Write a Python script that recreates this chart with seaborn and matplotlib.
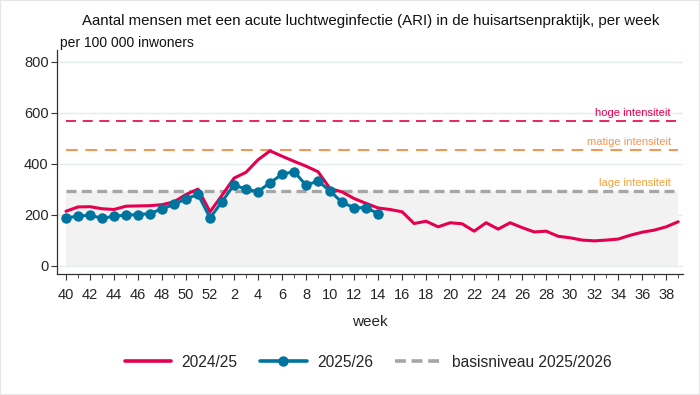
import numpy as np
import pandas as pd
import matplotlib
matplotlib.use("Agg")
import matplotlib.pyplot as plt
import seaborn as sns
from matplotlib.lines import Line2D

# ---- data ----
week_labels = [40, 41, 42, 43, 44, 45, 46, 47, 48, 49, 50, 51, 52] + list(range(1, 40))
ari_2024_25 = [214, 231, 232, 224, 221, 234, 235, 236, 240, 251, 280, 301, 212,
               277, 344, 367, 416, 451, 430, 410, 391, 369, 303, 290, 264, 245, 227,
               221, 212, 166, 175, 153, 169, 165, 136, 169, 144, 169, 150, 133, 136,
               116, 110, 101, 98, 101, 105, 120, 132, 140, 153, 173]
ari_2025_26 = [188, 195, 199, 186, 195, 199, 201, 205, 224, 241, 263, 280, 188,
               252, 318, 300, 291, 326, 359, 370, 316, 333, 293, 249, 228, 228, 205]
basisniveau = 293
matige_drempel = 456
hoge_drempel = 569
y_ticks = [0, 200, 400, 600, 800]

RED = "#e4004f"
BLUE = "#00739e"
GRAY = "#a6a6a6"
ORANGE = "#f7944f"
YELLOW = "#f5a33a"

sns.set_theme(style="white")
plt.rcParams["font.family"] = ["Liberation Sans", "DejaVu Sans"]

pos = np.arange(len(week_labels))
df24 = pd.DataFrame({"pos": pos, "waarde": ari_2024_25})
df25 = pd.DataFrame({"pos": pos[:len(ari_2025_26)], "waarde": ari_2025_26})

fig = plt.figure(figsize=(7.0, 3.95), dpi=100)
ax = fig.add_axes([0.0814, 0.306, 0.8943, 0.567])

x0, x1 = pos[0], pos[-1]
# grid
for yv in y_ticks:
    ax.axhline(yv, color="#e4ecee", lw=1.0, zorder=0)
# baseline shaded area
ax.fill_between([x0, x1], 0, basisniveau, color="#f2f2f2", zorder=1, lw=0)
ax.plot([x0, x1], [hoge_drempel] * 2, color=RED, lw=1.2, dashes=(6, 4), zorder=2)
ax.plot([x0, x1], [matige_drempel] * 2, color=ORANGE, lw=1.4, dashes=(6, 4), zorder=2)
ax.plot([x0, x1], [basisniveau] * 2, color=GRAY, lw=2.4, dashes=(3, 1.6), zorder=2)

ax.text(x1 - 0.6, hoge_drempel + 12, "hoge intensiteit", color=RED, fontsize=8,
        ha="right", va="bottom")
ax.text(x1 - 0.6, matige_drempel + 12, "matige intensiteit", color=ORANGE, fontsize=8,
        ha="right", va="bottom")
ax.text(x1 - 0.6, basisniveau + 12, "lage intensiteit", color=YELLOW, fontsize=8,
        ha="right", va="bottom")

sns.lineplot(data=df24, x="pos", y="waarde", color=RED, lw=2.2, ax=ax, zorder=4)
sns.lineplot(data=df25, x="pos", y="waarde", color=BLUE, lw=2.2, marker="o",
             markersize=7.5, markeredgewidth=0, ax=ax, zorder=5)

ax.set_xlim(-0.75, 51.4)
ax.set_ylim(-32.5, 846)
ax.set_yticks(y_ticks)
ax.set_yticklabels([str(v) for v in y_ticks], fontsize=10.5)
ax.set_xticks(pos[::2])
ax.set_xticklabels([str(w) for w in week_labels[::2]], fontsize=10.5)
ax.set_xticks(pos, minor=True)
ax.tick_params(axis="x", which="major", length=4, width=0.8, color="#333333", bottom=True, pad=6)
ax.tick_params(axis="x", which="minor", length=3, width=0.6, color="#333333", bottom=True)
ax.tick_params(axis="y", which="major", length=4, width=0.8, color="#333333", left=True, pad=2)
for s in ["top", "right"]:
    ax.spines[s].set_visible(False)
for s in ["left", "bottom"]:
    ax.spines[s].set_color("#333333")
    ax.spines[s].set_linewidth(0.9)
ax.set_xlabel("week", fontsize=11, labelpad=9)
ax.set_ylabel("")

fig.text(0.117, 0.948, "Aantal mensen met een acute luchtweginfectie (ARI) in de huisartsenpraktijk, per week",
         fontsize=10.8, ha="left", va="center", color="#111111")
fig.text(0.086, 0.89, "per 100 000 inwoners", fontsize=10, ha="left", va="center", color="#111111")

handles = [
    Line2D([], [], color=RED, lw=2.6),
    Line2D([], [], color=BLUE, lw=2.6, marker="o", markersize=7.5, markeredgewidth=0),
    Line2D([], [], color=GRAY, lw=2.6, dashes=(3, 1.6)),
]
fig.legend(handles, ["2024/25", "2025/26", "basisniveau 2025/2026"], loc="center",
           bbox_to_anchor=(0.526, 0.083), ncol=3, frameon=False, fontsize=11.2,
           handlelength=3.0, columnspacing=1.45, handletextpad=0.65)

fig.patches.append(matplotlib.patches.Rectangle((0, 0), 1, 1, transform=fig.transFigure,
                                                fill=False, edgecolor="#e6e6e6", lw=1.5))
fig.savefig("out.png", dpi=100)
